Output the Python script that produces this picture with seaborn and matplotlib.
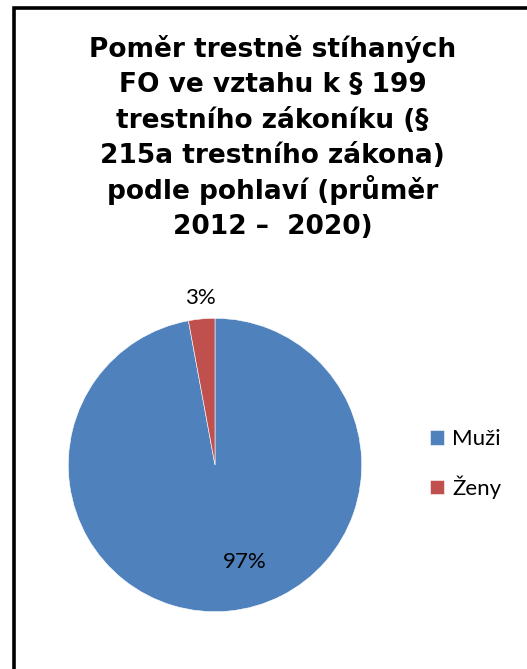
import seaborn as sns
import matplotlib.pyplot as plt
from matplotlib.patches import Rectangle
from matplotlib.font_manager import FontProperties

# data
categories = ['Muži', 'Ženy']
shares = [97.1, 2.9]
colors = ['#4F81BD', '#C0504D']
title_lines = [
    'Poměr trestně stíhaných',
    'FO ve vztahu k § 199',
    'trestního zákoníku (§',
    '215a trestního zákona)',
    'podle pohlaví (průměr',
    '2012 –  2020)',
]

sns.set_style("white")
plt.rcParams['font.family'] = ['Lato', 'DejaVu Sans']
plt.rcParams['text.color'] = 'black'

W, H = 527, 669
fig = plt.figure(figsize=(W / 100, H / 100), dpi=100)

# chart frame (left and top edges visible)
fig.patches.append(Rectangle((14 / W, -0.1), 1.2, (H - 7.5) / H + 0.1,
                             transform=fig.transFigure, fill=False,
                             edgecolor='black', linewidth=2.6))

# title, one line at a time so the spacing stays even
title_font = FontProperties(family='DejaVu Sans', weight='bold', size=19)
for i, line in enumerate(title_lines):
    fig.text(272.5 / W, 1 - (57 + i * 35.4) / H, line, ha='center', va='baseline',
             fontproperties=title_font, color='black')

cx, cy, r = 215, 465, 146.7
ax = fig.add_axes([(cx - r) / W, (H - cy - r) / H, 2 * r / W, 2 * r / H])
wedges, _, pct = ax.pie(shares, colors=colors, startangle=90, counterclock=False,
                        autopct=lambda v: f'{v:.0f}%', radius=1,
                        wedgeprops=dict(edgecolor='white', linewidth=0.4),
                        textprops=dict(fontsize=16, color='black'))
pct[0].set_position((0.20, -0.66))
pct[1].set_position((-0.10, 1.14))
ax.set_xlim(-1, 1)
ax.set_ylim(-1, 1)
ax.set_aspect('equal')
ax.axis('off')

fig.legend(wedges, categories, loc='center left',
           bbox_to_anchor=(430 / W, 1 - 464 / H), frameon=False,
           fontsize=16, borderpad=0, borderaxespad=0,
           handlelength=0.64, handleheight=0.64, handletextpad=0.36,
           labelspacing=1.18, labelcolor='black')

fig.savefig('out.png', dpi=100)
plt.close(fig)
